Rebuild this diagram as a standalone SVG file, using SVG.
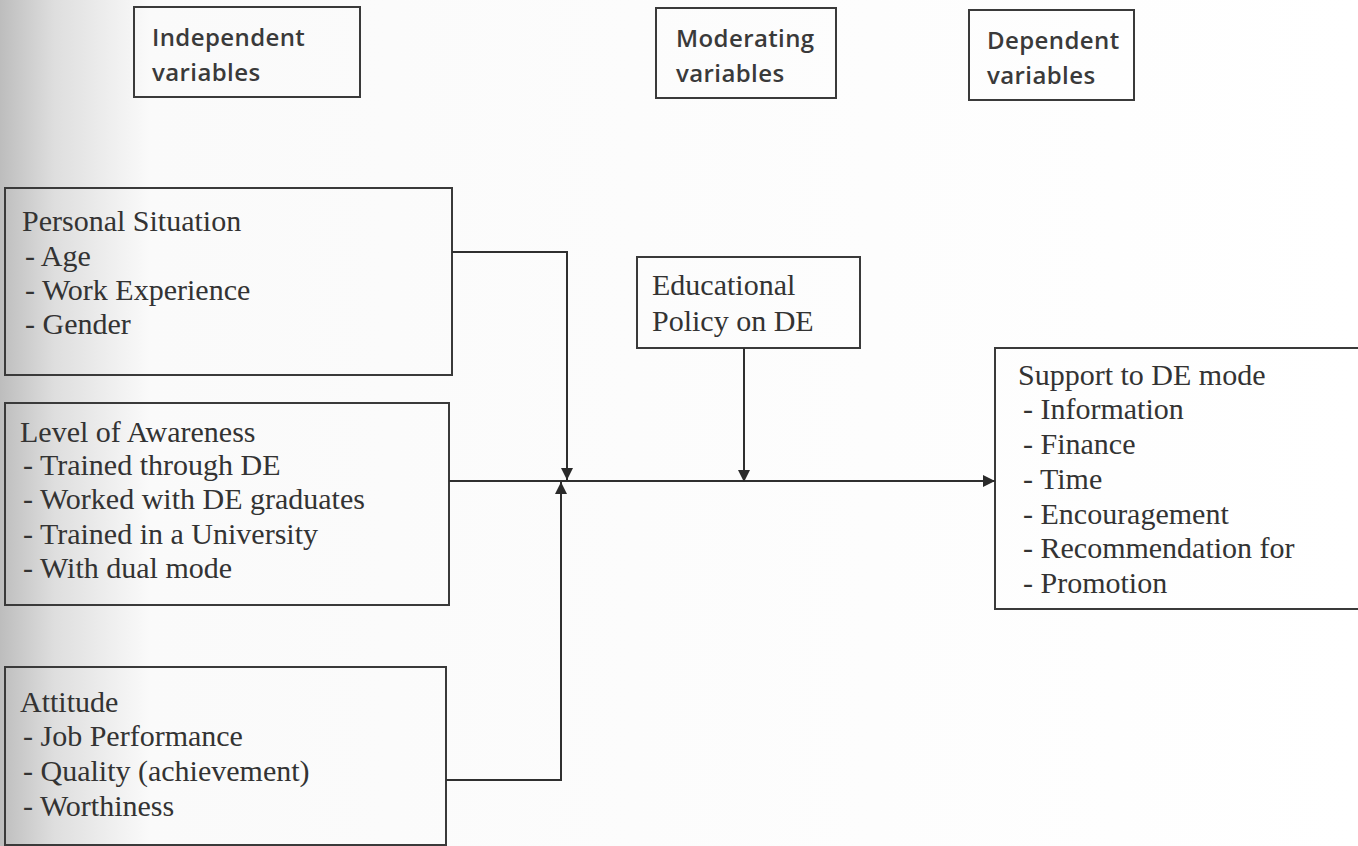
<svg xmlns="http://www.w3.org/2000/svg" width="1358" height="846" viewBox="0 0 1358 846">
<defs>
<linearGradient id="bg" x1="0" y1="0" x2="1" y2="0">
<stop offset="0" stop-color="#bdbdbd"/>
<stop offset="0.04" stop-color="#dedede"/>
<stop offset="0.11" stop-color="#fafafa"/>
<stop offset="1" stop-color="#ffffff"/>
</linearGradient>
<marker id="ah" viewBox="0 0 12 12" refX="12" refY="6" markerWidth="12" markerHeight="12" markerUnits="userSpaceOnUse" orient="auto">
<path d="M0,0 L12,6 L0,12 Z" fill="#2a2a2a"/>
</marker>
<style>
.box{fill:none;stroke:#3a3a3a;stroke-width:2}
.hd{font-family:"Open Sans","DejaVu Sans",sans-serif;font-weight:600;font-size:24px;fill:#3a3a3a;letter-spacing:0.4px}
.tx{font-family:"Liberation Serif","Times New Roman",serif;font-size:30px;fill:#333}
.ln{fill:none;stroke:#2f2f2f;stroke-width:2}
</style>
</defs>
<rect x="0" y="0" width="1358" height="846" fill="url(#bg)"/>

<g id="hdr-independent">
<rect class="box" x="134" y="7" width="226" height="90"/>
<text class="hd" x="152" y="46">Independent</text>
<text class="hd" x="152" y="81">variables</text>
</g>
<g id="hdr-moderating">
<rect class="box" x="656" y="8" width="180" height="90"/>
<text class="hd" x="676" y="47">Moderating</text>
<text class="hd" x="676" y="82">variables</text>
</g>
<g id="hdr-dependent">
<rect class="box" x="969" y="10" width="165" height="90"/>
<text class="hd" x="987" y="49">Dependent</text>
<text class="hd" x="987" y="84">variables</text>
</g>

<g id="personal">
<rect class="box" x="5" y="188" width="447" height="187"/>
<text class="tx" x="22" y="231">Personal Situation</text>
<text class="tx" x="25" y="266">- Age</text>
<text class="tx" x="25" y="300">- Work Experience</text>
<text class="tx" x="25" y="334">- Gender</text>
</g>
<g id="awareness">
<rect class="box" x="5" y="403" width="444" height="202"/>
<text class="tx" x="20" y="442">Level of Awareness</text>
<text class="tx" x="23" y="475">- Trained through DE</text>
<text class="tx" x="23" y="509">- Worked with DE graduates</text>
<text class="tx" x="23" y="544">- Trained in a University</text>
<text class="tx" x="23" y="578">- With dual mode</text>
</g>
<g id="attitude">
<rect class="box" x="5" y="667" width="441" height="178"/>
<text class="tx" x="20" y="712">Attitude</text>
<text class="tx" x="23" y="746">- Job Performance</text>
<text class="tx" x="23" y="781">- Quality (achievement)</text>
<text class="tx" x="23" y="816">- Worthiness</text>
</g>
<g id="policy">
<rect class="box" x="637" y="257" width="223" height="91"/>
<text class="tx" x="652" y="295">Educational</text>
<text class="tx" x="652" y="331">Policy on DE</text>
</g>
<g id="support">
<rect class="box" x="995" y="348" width="370" height="261"/>
<text class="tx" x="1018" y="385">Support to DE mode</text>
<text class="tx" x="1023" y="419">- Information</text>
<text class="tx" x="1023" y="454">- Finance</text>
<text class="tx" x="1023" y="489">- Time</text>
<text class="tx" x="1023" y="524">- Encouragement</text>
<text class="tx" x="1023" y="558">- Recommendation for</text>
<text class="tx" x="1023" y="593">- Promotion</text>
</g>

<g id="connectors">
<path class="ln" d="M452,252 H567 V480" marker-end="url(#ah)"/>
<path class="ln" d="M446,780 H561 V482" marker-end="url(#ah)"/>
<path class="ln" d="M449,481 H995" marker-end="url(#ah)"/>
<path class="ln" d="M744,348 V482" marker-end="url(#ah)"/>
</g>
</svg>
